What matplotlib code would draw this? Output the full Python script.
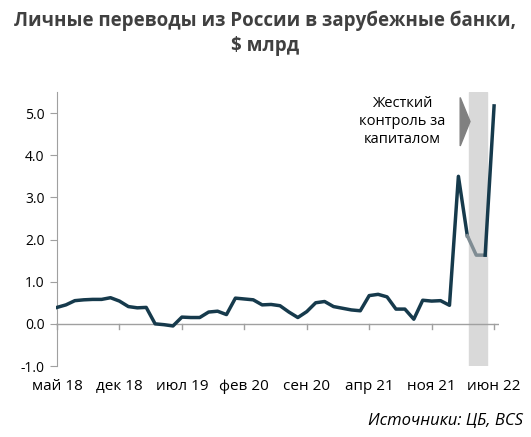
import matplotlib
matplotlib.use("Agg")
import matplotlib.pyplot as plt
import numpy as np

values = [0.39,0.45,0.55,0.57,0.58,0.58,0.62,0.54,0.41,0.38,0.39,0.0,-0.02,-0.05,0.16,0.15,0.15,0.28,0.30,0.22,
          0.61,0.59,0.57,0.45,0.46,0.43,0.28,0.15,0.29,0.50,0.53,0.41,0.37,0.33,0.31,0.67,0.70,0.64,0.35,0.35,
          0.11,0.56,0.54,0.55,0.44,3.5,2.09,1.63,1.63,5.17]
tick_labels = ["май 18","дек 18","июл 19","фев 20","сен 20","апр 21","ноя 21","июн 22"]
yticks = [-1.0,0.0,1.0,2.0,3.0,4.0,5.0]

plt.rcParams['font.family'] = ['Open Sans', 'DejaVu Sans']
fig = plt.figure(figsize=(5.31,4.37), dpi=100)
ppi = 8.92
x0, x1 = -0.1, 49.6
ax = fig.add_axes([(57 + x0*ppi)/531, 1-366/437, (x1-x0)*ppi/531, (366-92)/437])
x = np.arange(len(values))
dark = '#163a4c'
ax.axvspan(46.2, 48.2, color='#d9d9d9', zorder=0)
ax.plot(x[:47], values[:47], color=dark, lw=2.5, zorder=3)
ax.plot(x[46:49], values[46:49], color='#7f8c93', lw=2.5, zorder=3)
ax.plot(x[48:], values[48:], color=dark, lw=2.5, zorder=3)
ax.set_ylim(-1.0, 5.5)
ax.set_xlim(x0, x1)
ax.set_yticks(yticks)
ax.set_yticklabels([f"{v:.1f}" for v in yticks], fontsize=11)
for s in ['top','right','bottom']:
    ax.spines[s].set_visible(False)
ax.spines['left'].set_color('#a0a0a0')
ax.spines['left'].set_position(('data', 0))
ax.tick_params(axis='y', color='#a0a0a0', length=5, pad=4)
ax.axhline(0, color='#a0a0a0', lw=1, zorder=2)
ax.set_xticks([])
for i, lab in enumerate(tick_labels):
    ax.plot([i*7, i*7], [0, -0.12], color='#a0a0a0', lw=1, clip_on=False, zorder=2)
    ax.text(i*7, -1.3, lab, ha='center', va='top', fontsize=11)
ax.fill([45.2, 46.3, 45.2], [5.37, 4.8, 4.22], color='#808080', zorder=4)
ax.text(38.7, 4.8, "Жесткий\nконтроль за\nкапиталом", ha='center', va='center', fontsize=10.5, linespacing=1.3)
fig.text(0.5, 0.975, "Личные переводы из России в зарубежные банки,\n$ млрд", ha='center', va='top',
         fontsize=13.5, fontweight='bold', color='#404040', linespacing=1.3)
fig.text(0.985, 0.02, "Источники: ЦБ, BCS", ha='right', va='bottom', fontsize=12, style='italic')
fig.savefig("out.png", dpi=100)
